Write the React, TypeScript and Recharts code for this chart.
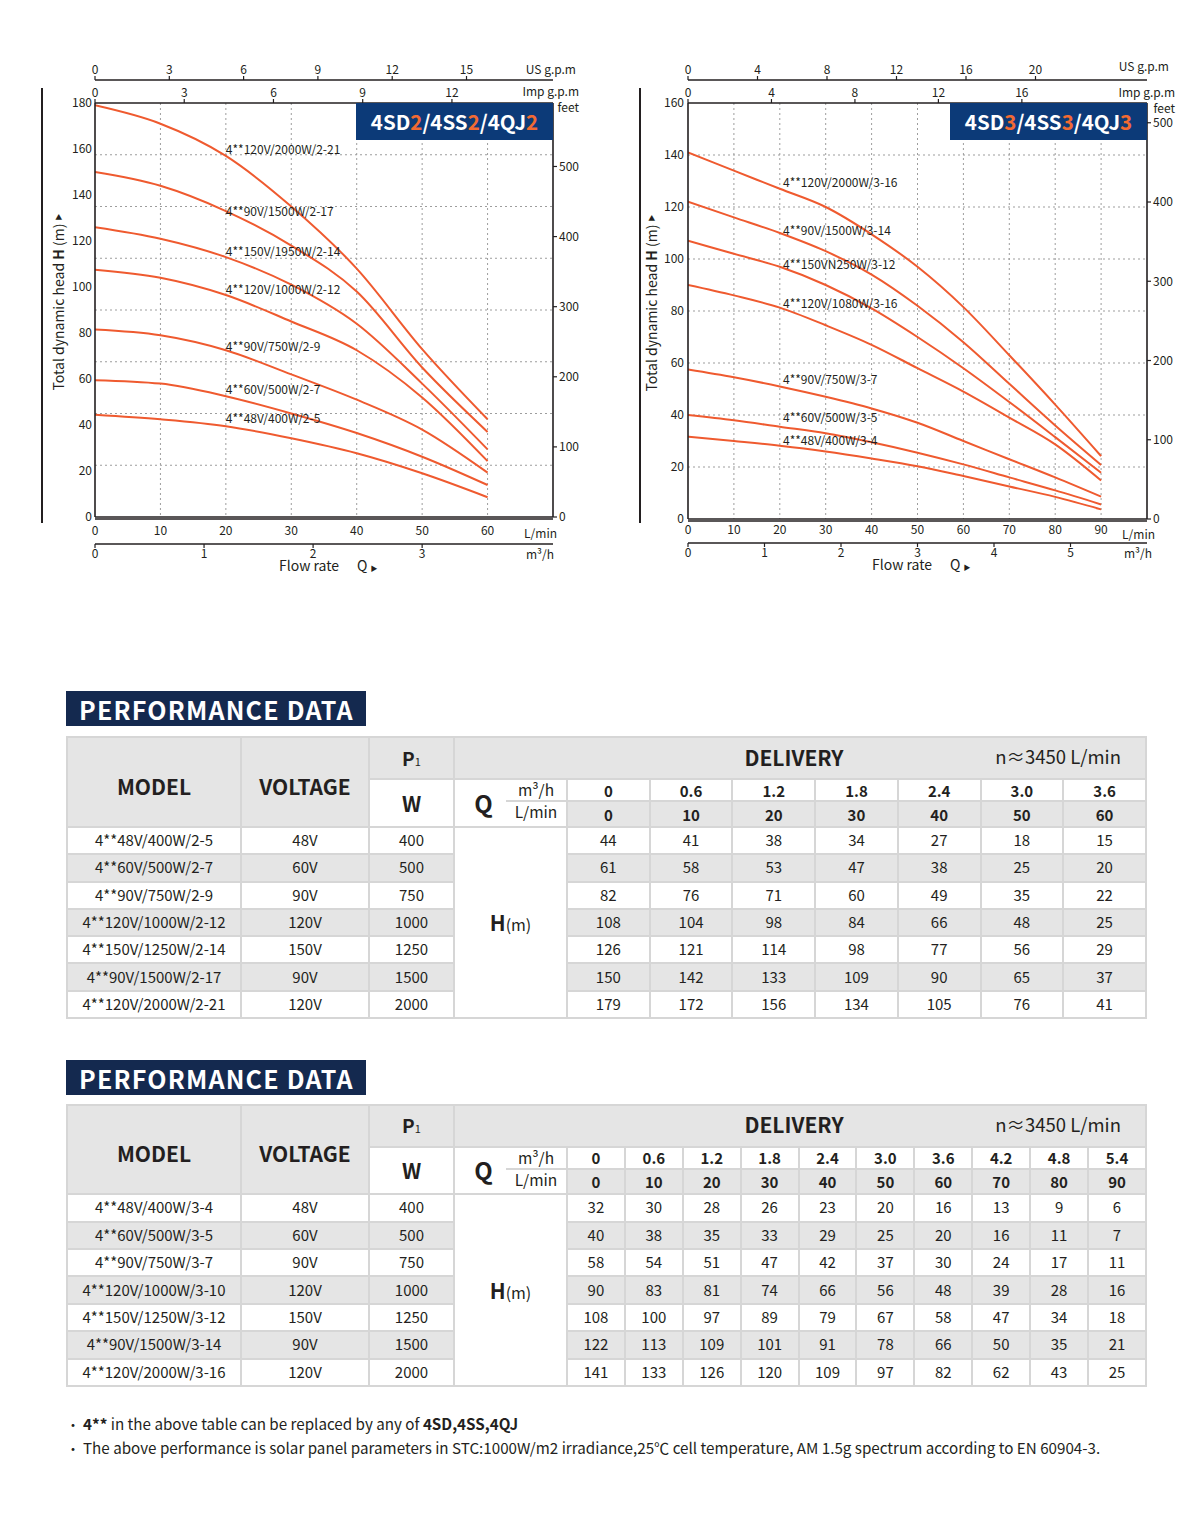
import React from 'react';
import { LineChart, Line, XAxis, YAxis, CartesianGrid, ReferenceDot } from 'recharts';

const FONT = '"Noto Sans CJK SC", "Noto Sans", sans-serif';
const INK = '#231f20';
const CURVE = '#ef5a2f';
const NAVY = '#0c3a78';
const TITLE_BG = '#14294f';
const ORANGE = '#f26a33';
const GRAY = '#e5e5e5';
const LINE = '#d6d6d6';

// ---- 4SD2 / 4SS2 / 4QJ2 curves (head in m) ----
const FLOW_2 = [0, 10, 20, 30, 40, 50, 60];
const H_2_21 = [179, 171, 157, 135, 108, 73, 42.5];
const H_2_17 = [150, 144, 133, 118, 98, 65, 37];
const H_2_14 = [126, 121, 113, 101, 84, 58, 29.4];
const H_2_12 = [107.5, 104, 96.5, 85, 72.5, 52, 24.3];
const H_2_9 = [81.5, 79, 72.5, 62, 51, 38, 19.3];
const H_2_7 = [59.5, 58, 52.5, 45, 36.5, 26.2, 13.9];
const H_2_5 = [44.5, 42.5, 39.5, 34.2, 27.7, 19, 8.6];
const NAMES_2 = ['4**120V/2000W/2-21', '4**90V/1500W/2-17', '4**150V/1950W/2-14', '4**120V/1000W/2-12', '4**90V/750W/2-9', '4**60V/500W/2-7', '4**48V/400W/2-5'];
const NAME_Y_2 = [159.7, 132.6, 115.5, 99, 73.9, 55.5, 42.7];

// ---- 4SD3 / 4SS3 / 4QJ3 curves ----
const FLOW_3 = [0, 10, 20, 30, 40, 50, 60, 70, 80, 90];
const H_3_16 = [141, 134, 127, 120, 109.5, 97, 81.5, 63, 44, 24.2];
const H_3_14 = [122, 116, 110, 103, 94, 82, 68, 52, 36, 20.8];
const H_3_12 = [107, 102, 97, 90, 81, 70, 58, 45, 31.5, 17.8];
const H_3_10 = [90, 86, 81.3, 74.5, 67, 58, 49, 39, 28.7, 14.8];
const H_3_7 = [57.5, 54.5, 51, 47, 42.5, 37, 30, 23, 16, 8.6];
const H_3_5 = [40, 38, 35.5, 33, 29.5, 25.5, 21, 16, 11, 5.6];
const H_3_4 = [31.7, 30, 28.2, 26, 23.3, 20.3, 16.5, 12.5, 8.5, 3.7];
const NAMES_3 = ['4**120V/2000W/3-16', '4**90V/1500W/3-14', '4**150VN250W/3-12', '4**120V/1080W/3-16', '4**90V/750W/3-7', '4**60V/500W/3-5', '4**48V/400W/3-4'];
const NAME_Y_3 = [129.3, 110.8, 97.9, 82.8, 53.7, 39, 30];

// ---- performance tables ----
const T1_M3H = ['0', '0.6', '1.2', '1.8', '2.4', '3.0', '3.6'];
const T1_LMIN = ['0', '10', '20', '30', '40', '50', '60'];
const T1_MODEL = ['4**48V/400W/2-5', '4**60V/500W/2-7', '4**90V/750W/2-9', '4**120V/1000W/2-12', '4**150V/1250W/2-14', '4**90V/1500W/2-17', '4**120V/2000W/2-21'];
const T1_VOLT = ['48V', '60V', '90V', '120V', '150V', '90V', '120V'];
const T1_POWER = ['400', '500', '750', '1000', '1250', '1500', '2000'];
const T1_HEAD = [
  [44, 41, 38, 34, 27, 18, 15],
  [61, 58, 53, 47, 38, 25, 20],
  [82, 76, 71, 60, 49, 35, 22],
  [108, 104, 98, 84, 66, 48, 25],
  [126, 121, 114, 98, 77, 56, 29],
  [150, 142, 133, 109, 90, 65, 37],
  [179, 172, 156, 134, 105, 76, 41],
];

const T2_M3H = ['0', '0.6', '1.2', '1.8', '2.4', '3.0', '3.6', '4.2', '4.8', '5.4'];
const T2_LMIN = ['0', '10', '20', '30', '40', '50', '60', '70', '80', '90'];
const T2_MODEL = ['4**48V/400W/3-4', '4**60V/500W/3-5', '4**90V/750W/3-7', '4**120V/1000W/3-10', '4**150V/1250W/3-12', '4**90V/1500W/3-14', '4**120V/2000W/3-16'];
const T2_VOLT = ['48V', '60V', '90V', '120V', '150V', '90V', '120V'];
const T2_POWER = ['400', '500', '750', '1000', '1250', '1500', '2000'];
const T2_HEAD = [
  [32, 30, 28, 26, 23, 20, 16, 13, 9, 6],
  [40, 38, 35, 33, 29, 25, 20, 16, 11, 7],
  [58, 54, 51, 47, 42, 37, 30, 24, 17, 11],
  [90, 83, 81, 74, 66, 56, 48, 39, 28, 16],
  [108, 100, 97, 89, 79, 67, 58, 47, 34, 18],
  [122, 113, 109, 101, 91, 78, 66, 50, 35, 21],
  [141, 133, 126, 120, 109, 97, 82, 62, 43, 25],
];

const FT_PER_M = 3.28084;
const LMIN_PER_IMP = 4.54609;
const LMIN_PER_US = 3.78541;
const M3H_PER_LMIN = 0.06;

const txt = { fontFamily: FONT, fill: INK };

const unitLabel = (text: string, dx: number, dy: number) => (p: any) => {
  const vb = p.viewBox;
  return (
    <text x={vb.x + vb.width + dx} y={vb.y + dy} textAnchor="end" fontSize={12} {...txt}>
      {text}
    </text>
  );
};

const feetLabel = (dx: number, dy: number) => (p: any) => {
  const vb = p.viewBox;
  return (
    <text x={vb.x + dx} y={vb.y + dy} textAnchor="end" fontSize={12} {...txt}>
      feet
    </text>
  );
};

const yTitle = (dx: number) => (p: any) => {
  const vb = p.viewBox;
  const cx = vb.x + dx;
  const cy = vb.y + vb.height / 2 - 8;
  return (
    <text x={cx} y={cy} transform={`rotate(-90 ${cx} ${cy})`} textAnchor="middle" dominantBaseline="central" fontSize={14} {...txt}>
      Total dynamic head <tspan fontWeight={700}>H</tspan> (m) <tspan fontSize={7}>▶</tspan>
    </text>
  );
};

const flowTitle = (dy: number) => (p: any) => {
  const vb = p.viewBox;
  return (
    <g>
      <text x={vb.x + 184} y={vb.y + dy} fontSize={14} {...txt}>Flow rate</text>
      <text x={vb.x + 262} y={vb.y + dy} fontSize={14} {...txt}>
        Q <tspan fontSize={7}>▶</tspan>
      </text>
    </g>
  );
};

type ChartProps = {
  left: number;
  flow: number[];
  curves: number[][];
  names: string[];
  nameY: number[];
  nameX: number;
  xMax: number;
  lminTicks: number[];
  m3hTicks: number[];
  usTicks: number[];
  impTicks: number[];
  yMax: number;
  yTicks: number[];
  gridY: number[];
  ftTicks: number[];
  digit: string;
  marginLeft: number;
  mWidth: number;
  marginRight: number;
  lminH: number;
  lminMargin: number;
  marginBottom: number;
  titleDx: number;
  yTickMargin: number;
  lminUnit: [number, number];
  m3hUnit: [number, number];
  impUnit: [number, number];
  usUnit: [number, number];
  feetUnit: [number, number];
};

function PumpChart(p: ChartProps) {
  // each row carries the flow in the units of every horizontal axis
  const data = p.flow.map((f, i) => {
    const row: Record<string, number> = {
      flow: f,
      imp: f / LMIN_PER_IMP,
      us: f / LMIN_PER_US,
      m3h: f * M3H_PER_LMIN,
    };
    p.curves.forEach((c, k) => {
      row['s' + k] = c[i];
    });
    return row;
  });
  const tick = { fontSize: 12, fill: INK, fontFamily: FONT };
  const axisLine = { stroke: INK, strokeWidth: 1.6 };
  const tickLine = { stroke: INK, strokeWidth: 1.2 };
  const gridX = p.lminTicks.slice(1);
  const plotRight = 600 - p.marginRight - 40;

  return (
    <div style={{ position: 'absolute', left: p.left, top: 0, width: 600, height: 590 }}>
      <div style={{ position: 'absolute', left: p.marginLeft - 1, top: 88, width: 2, height: 435, background: INK }} />
      <LineChart width={600} height={590} data={data} margin={{ top: 56, right: p.marginRight, bottom: p.marginBottom, left: p.marginLeft }}>
        <CartesianGrid xAxisId="lmin" yAxisId="m" stroke="#9d9d9d" strokeDasharray="2 3" horizontalValues={p.gridY} verticalValues={gridX} />
        <XAxis xAxisId="lmin" dataKey="flow" type="number" domain={[0, p.xMax]} ticks={p.lminTicks} interval={0} allowDataOverflow height={p.lminH} tickSize={0} tickMargin={p.lminMargin} tickLine={false} axisLine={axisLine} tick={tick} label={unitLabel('L/min', p.lminUnit[0], p.lminUnit[1])} />
        <XAxis xAxisId="m3h" dataKey="m3h" type="number" domain={[0, p.xMax * M3H_PER_LMIN]} ticks={p.m3hTicks} interval={0} allowDataOverflow height={32} tickSize={4} tickMargin={1} tickLine={tickLine} axisLine={axisLine} tick={tick} label={(props: any) => (
          <g>
            {unitLabel('m³/h', p.m3hUnit[0], p.m3hUnit[1])(props)}
            {flowTitle(27)(props)}
          </g>
        )} />
        <XAxis xAxisId="base" dataKey="flow" type="number" domain={[0, p.xMax]} allowDataOverflow tick={false} tickLine={false} height={2} axisLine={axisLine} />
        <XAxis xAxisId="imp" dataKey="imp" orientation="top" type="number" domain={[0, p.xMax / LMIN_PER_IMP]} ticks={p.impTicks} interval={0} allowDataOverflow height={23} tickSize={4} tickMargin={2} tickLine={tickLine} axisLine={axisLine} tick={tick} label={unitLabel('Imp g.p.m', p.impUnit[0], p.impUnit[1])} />
        <XAxis xAxisId="us" dataKey="us" orientation="top" type="number" domain={[0, p.xMax / LMIN_PER_US]} ticks={p.usTicks} interval={0} allowDataOverflow height={24} tickSize={4} tickMargin={2} tickLine={tickLine} axisLine={axisLine} tick={tick} label={unitLabel('US g.p.m', p.usUnit[0], p.usUnit[1])} />
        <YAxis yAxisId="m" type="number" domain={[0, p.yMax]} ticks={p.yTicks} interval={0} allowDataOverflow width={p.mWidth} tickSize={0} tickMargin={p.yTickMargin} tickLine={false} axisLine={axisLine} tick={tick} label={yTitle(p.titleDx)} />
        <YAxis yAxisId="ft" orientation="right" type="number" domain={[0, p.yMax * FT_PER_M]} ticks={p.ftTicks} interval={0} allowDataOverflow width={40} tickSize={4} tickMargin={2} tickLine={tickLine} axisLine={axisLine} tick={tick} label={feetLabel(p.feetUnit[0], p.feetUnit[1])} />
        {p.curves.map((_, k) => (
          <Line key={k} xAxisId="lmin" yAxisId="m" type="monotone" dataKey={'s' + k} stroke={CURVE} strokeWidth={2} dot={false} isAnimationActive={false} />
        ))}
        {p.names.map((name, k) => (
          <ReferenceDot key={name} xAxisId="lmin" yAxisId="m" x={p.nameX} y={p.nameY[k]} r={0} fill="none" stroke="none" label={{ value: name, position: 'right', offset: 0, fontSize: 12, fill: INK, fontFamily: FONT }} />
        ))}
      </LineChart>
      <div
        style={{
          position: 'absolute',
          left: plotRight - 197,
          top: 103,
          width: 197,
          height: 36.5,
          background: NAVY,
          color: '#fff',
          fontFamily: FONT,
          fontWeight: 700,
          fontSize: 20.5,
          display: 'flex',
          alignItems: 'center',
          justifyContent: 'center',
        }}
      >
        4SD<span style={{ color: ORANGE }}>{p.digit}</span>/4SS<span style={{ color: ORANGE }}>{p.digit}</span>/4QJ
        <span style={{ color: ORANGE }}>{p.digit}</span>
      </div>
    </div>
  );
}

type TableProps = {
  top: number;
  heights: number[];
  m3h: string[];
  lmin: string[];
  models: string[];
  volts: string[];
  powers: string[];
  heads: number[][];
};

function PerfTable(t: TableProps) {
  const n = t.m3h.length;
  const colW = 579 / n;
  const cell = (extra: React.CSSProperties = {}): React.CSSProperties => ({
    border: `2px solid ${LINE}`,
    padding: 0,
    textAlign: 'center',
    verticalAlign: 'middle',
    lineHeight: 1,
    color: INK,
    fontSize: 15,
    whiteSpace: 'nowrap',
    ...extra,
  });
  const bold = { fontWeight: 700, fontSize: 21 };
  return (
    <table style={{ position: 'absolute', left: 66, top: t.top, width: 1079, borderCollapse: 'collapse', tableLayout: 'fixed', fontFamily: FONT }}>
      <colgroup>
        <col style={{ width: 174 }} />
        <col style={{ width: 128 }} />
        <col style={{ width: 85 }} />
        <col style={{ width: 52 }} />
        <col style={{ width: 61 }} />
        {t.m3h.map((_, i) => (
          <col key={i} style={{ width: colW }} />
        ))}
      </colgroup>
      <tbody>
        <tr style={{ height: t.heights[0] }}>
          <td rowSpan={3} style={cell({ background: GRAY, ...bold, paddingTop: 8 })}>MODEL</td>
          <td rowSpan={3} style={cell({ background: GRAY, ...bold, paddingTop: 8 })}>VOLTAGE</td>
          <td style={cell({ background: GRAY, fontWeight: 700, fontSize: 19, paddingBottom: 2 })}>
            P<span style={{ fontSize: 11, fontWeight: 400 }}>1</span>
          </td>
          <td colSpan={2 + n} style={cell({ background: GRAY, position: 'relative', paddingBottom: 2 })}>
            <span style={{ ...bold, position: 'relative', left: -6 }}>DELIVERY</span>
            <span style={{ position: 'absolute', right: 24, top: 9, fontSize: 18.5 }}>n≈3450 L/min</span>
          </td>
        </tr>
        <tr style={{ height: t.heights[1] }}>
          <td rowSpan={2} style={cell({ background: '#fff', ...bold })}>W</td>
          <td rowSpan={2} style={cell({ background: '#fff', fontWeight: 700, fontSize: 24, borderRight: 'hidden', paddingLeft: 6 })}>Q</td>
          <td style={cell({ background: '#fff', fontSize: 15.5 })}>m³/h</td>
          {t.m3h.map((v, i) => (
            <td key={i} style={cell({ background: '#fff', fontWeight: 600 })}>{v}</td>
          ))}
        </tr>
        <tr style={{ height: t.heights[2] }}>
          <td style={cell({ background: '#fff', fontSize: 15.5, verticalAlign: 'top', paddingTop: 2 })}>L/min</td>
          {t.lmin.map((v, i) => (
            <td key={i} style={cell({ background: GRAY, fontWeight: 600 })}>{v}</td>
          ))}
        </tr>
        {t.models.map((m, r) => {
          const bg = r % 2 === 1 ? GRAY : '#fff';
          return (
            <tr key={m} style={{ height: t.heights[3] }}>
              <td style={cell({ background: bg, paddingBottom: 2 })}>{m}</td>
              <td style={cell({ background: bg, paddingBottom: 2 })}>{t.volts[r]}</td>
              <td style={cell({ background: bg, paddingBottom: 2 })}>{t.powers[r]}</td>
              {r === 0 ? (
                <td rowSpan={t.models.length} colSpan={2} style={cell({ background: '#fff' })}>
                  <span style={{ fontWeight: 700, fontSize: 21 }}>H</span>
                  <span style={{ fontSize: 16 }}>(m)</span>
                </td>
              ) : null}
              {t.heads[r].map((v, i) => (
                <td key={i} style={cell({ background: bg, paddingBottom: 2 })}>{v}</td>
              ))}
            </tr>
          );
        })}
      </tbody>
    </table>
  );
}

const titleStyle = (top: number): React.CSSProperties => ({
  position: 'absolute',
  left: 66,
  top,
  width: 300,
  height: 35,
  background: TITLE_BG,
  color: '#fff',
  fontFamily: FONT,
  fontWeight: 700,
  fontSize: 25,
  letterSpacing: 1.2,
  display: 'flex',
  alignItems: 'center',
  paddingLeft: 13,
  boxSizing: 'border-box',
});

const bullet: React.CSSProperties = { fontSize: 14, marginRight: 3 };

export default function App() {
  return (
    <div style={{ position: 'absolute', left: 0, top: 0, width: 1200, height: 1517, background: '#fff', fontFamily: FONT, color: INK }}>
      <PumpChart
        left={0}
        flow={FLOW_2}
        curves={[H_2_21, H_2_17, H_2_14, H_2_12, H_2_9, H_2_7, H_2_5]}
        names={NAMES_2}
        nameY={NAME_Y_2}
        nameX={20}
        xMax={70}
        lminTicks={[0, 10, 20, 30, 40, 50, 60]}
        m3hTicks={[0, 1, 2, 3]}
        usTicks={[0, 3, 6, 9, 12, 15]}
        impTicks={[0, 3, 6, 9, 12]}
        yMax={180}
        yTicks={[0, 20, 40, 60, 80, 100, 120, 140, 160, 180]}
        gridY={[22.5, 45, 67.5, 90, 112.5, 135, 157.5]}
        ftTicks={[0, 100, 200, 300, 400, 500]}
        digit="2"
        marginLeft={42}
        mWidth={53}
        marginRight={7}
        lminH={25}
        lminMargin={7}
        marginBottom={14}
        titleDx={16}
        yTickMargin={3}
        lminUnit={[4, 19]}
        m3hUnit={[1, 15]}
        impUnit={[26, 16]}
        usUnit={[23, 18]}
        feetUnit={[26, 8.5]}
      />
      <PumpChart
        left={600}
        flow={FLOW_3}
        curves={[H_3_16, H_3_14, H_3_12, H_3_10, H_3_7, H_3_5, H_3_4]}
        names={NAMES_3}
        nameY={NAME_Y_3}
        nameX={20.7}
        xMax={100}
        lminTicks={[0, 10, 20, 30, 40, 50, 60, 70, 80, 90]}
        m3hTicks={[0, 1, 2, 3, 4, 5]}
        usTicks={[0, 4, 8, 12, 16, 20]}
        impTicks={[0, 4, 8, 12, 16]}
        yMax={160}
        yTicks={[0, 20, 40, 60, 80, 100, 120, 140, 160]}
        gridY={[20, 40, 60, 80, 100, 120, 140]}
        ftTicks={[0, 100, 200, 300, 400, 500]}
        digit="3"
        marginLeft={40}
        mWidth={48}
        marginRight={13}
        lminH={22}
        lminMargin={4}
        marginBottom={15}
        titleDx={11}
        yTickMargin={4}
        lminUnit={[8, 18]}
        m3hUnit={[5, 15]}
        impUnit={[28, 17]}
        usUnit={[22, 15]}
        feetUnit={[28, 10]}
      />

      <div style={titleStyle(691)}>PERFORMANCE DATA</div>
      <PerfTable top={736} heights={[42, 22, 26, 27.3]} m3h={T1_M3H} lmin={T1_LMIN} models={T1_MODEL} volts={T1_VOLT} powers={T1_POWER} heads={T1_HEAD} />

      <div style={titleStyle(1060)}>PERFORMANCE DATA</div>
      <PerfTable top={1104} heights={[41.7, 22, 25.6, 27.4]} m3h={T2_M3H} lmin={T2_LMIN} models={T2_MODEL} volts={T2_VOLT} powers={T2_POWER} heads={T2_HEAD} />

      <div style={{ position: 'absolute', left: 66, top: 1412, fontSize: 15.2, lineHeight: '23px', color: INK }}>
        <div>
          <span style={bullet}>•</span>
          <b>4**</b> in the above table can be replaced by any of <b>4SD,4SS,4QJ</b>
        </div>
        <div>
          <span style={bullet}>•</span>
          The above performance is solar panel parameters in STC:1000W/m2 irradiance,25℃ cell temperature, AM 1.5g spectrum according to EN 60904-3.
        </div>
      </div>
    </div>
  );
}
